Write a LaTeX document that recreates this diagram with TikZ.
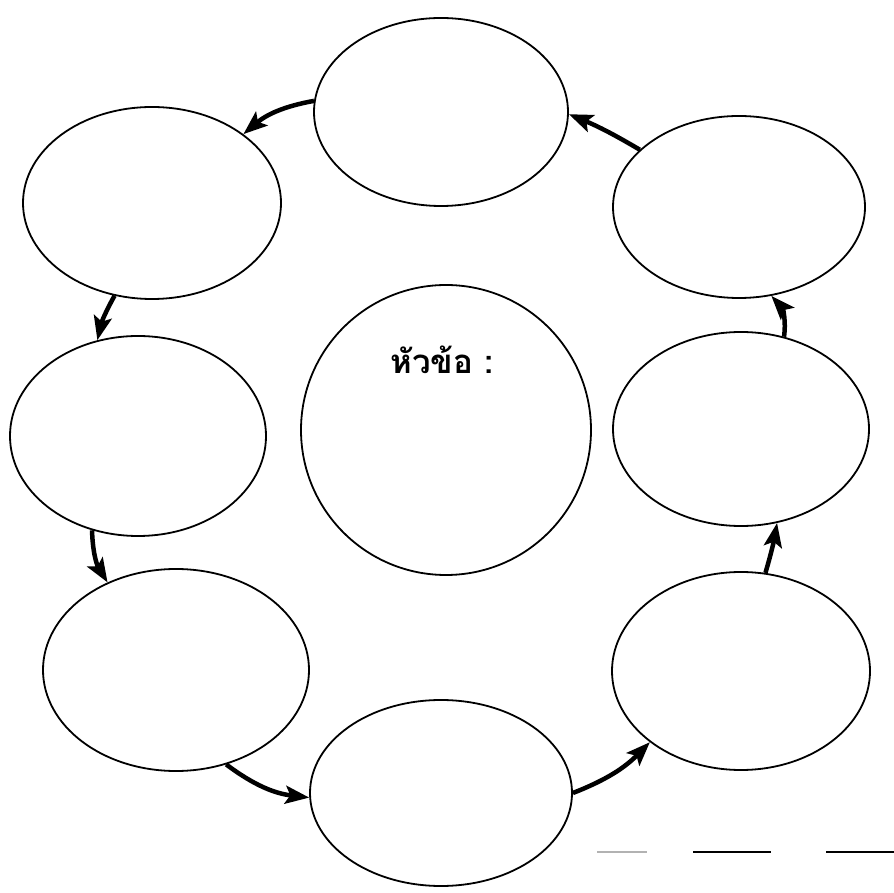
\documentclass[tikz,border=0pt]{standalone}
\usepackage{fontspec}
\newfontfamily\thaifont[Script=Thai]{Loma}
\usetikzlibrary{shapes.geometric,arrows.meta}
\begin{document}
\begin{tikzpicture}[x=1pt,y=1pt,
  ell/.style={draw, ellipse, line width=1.8pt, inner sep=0pt},
  flow/.style={line width=4.5pt, -{Stealth[length=24pt,width=18pt,inset=5pt]}},
  stray/.style={line width=1.2pt}
]
\fill[white] (0,0) rectangle (894,892);
\useasboundingbox (0,0) rectangle (894,892);
\node[ell, minimum width=254pt, minimum height=188pt] (T)  at (441,780) {};
\node[ell, minimum width=258pt, minimum height=192pt] (TL) at (152,689) {};
\node[ell, minimum width=252pt, minimum height=182pt] (TR) at (739,685) {};
\node[ell, minimum width=256pt, minimum height=200pt] (L)  at (138,456) {};
\node[ell, minimum width=256pt, minimum height=194pt] (R)  at (741,463) {};
\node[ell, minimum width=266pt, minimum height=202pt] (BL) at (176,222) {};
\node[ell, minimum width=258pt, minimum height=198pt] (BR) at (741,221) {};
\node[ell, minimum width=262pt, minimum height=186pt] (B)  at (441,99) {};
\node[draw, circle, line width=1.8pt, inner sep=0pt, minimum size=290pt] (C) at (446,462) {};
\node[font=\thaifont\bfseries\fontsize{33}{40}\selectfont] (title) at (442,532) {หัวข้อ :};
\draw[flow] (T.175) to[bend right=15] (TL.37);
\draw[flow] (TR.150) to[bend right=4] (T.-1);
\draw[flow] (R.65) to[bend right=25] (TR.-70);
\draw[flow] (BR.76) to[bend right=3] (R.-69);
\draw[flow] (B.0) to[bend right=12] (BR.218);
\draw[flow] (BL.-62) to[bend right=15] (B.182);
\draw[flow] (L.244) to[bend right=15] (BL.128);
\draw[flow] (TL.248) to[bend right=8] (L.113);
\draw[stray, gray!60] (597,40) -- (647,40);
\draw[stray] (693,40) -- (771,40);
\draw[stray] (826,40) -- (894,40);
\end{tikzpicture}
\end{document}
